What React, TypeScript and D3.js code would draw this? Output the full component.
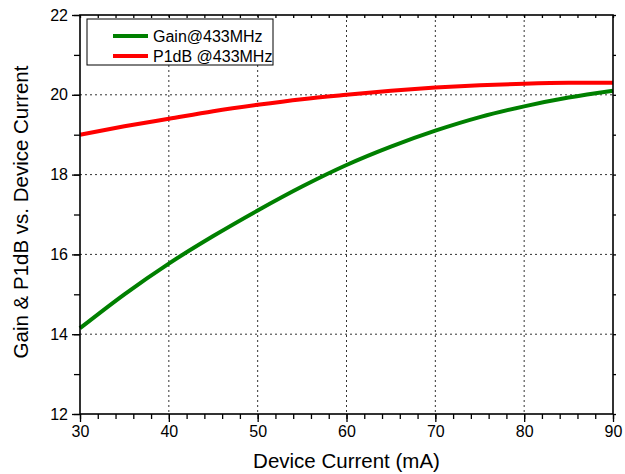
import React, { useEffect, useRef } from "react";
import * as d3 from "d3";

const current = [30, 35, 40, 45, 50, 55, 60, 65, 70, 75, 80, 85, 90];
const gain = [14.15, 15.0, 15.77, 16.46, 17.1, 17.7, 18.24, 18.7, 19.1, 19.44, 19.71, 19.93, 20.1];
const p1db = [19.0, 19.21, 19.4, 19.59, 19.75, 19.89, 20.0, 20.1, 20.18, 20.24, 20.28, 20.3, 20.3];
const xTicks = [30, 40, 50, 60, 70, 80, 90];
const yTicks = [12, 14, 16, 18, 20, 22];
const seriesNames = ["Gain@433MHz", "P1dB @433MHz"];

export default function App() {
  const svgRef = useRef<SVGSVGElement>(null);

  useEffect(() => {
    const svg = d3.select(svgRef.current);
    svg.selectAll("*").remove();

    const left = 80, right = 613, top = 15, bottom = 414;
    const x = d3.scaleLinear().domain([30, 90]).range([left, right]);
    const y = d3.scaleLinear().domain([12, 22]).range([bottom, top]);
    const font = "Liberation Sans, Arial, sans-serif";

    // grid
    const g = svg.append("g");
    g.selectAll(".vg")
      .data(xTicks.slice(1, -1))
      .enter()
      .append("line")
      .attr("x1", (d) => x(d))
      .attr("x2", (d) => x(d))
      .attr("y1", top)
      .attr("y2", bottom)
      .attr("stroke", "#333")
      .attr("stroke-width", 1)
      .attr("stroke-dasharray", "2,3");
    g.selectAll(".hg")
      .data(yTicks.slice(1, -1))
      .enter()
      .append("line")
      .attr("x1", left)
      .attr("x2", right)
      .attr("y1", (d) => y(d))
      .attr("y2", (d) => y(d))
      .attr("stroke", "#333")
      .attr("stroke-width", 1)
      .attr("stroke-dasharray", "2,3");

    // curves
    const line = d3
      .line<number>()
      .x((d, i) => x(current[i]))
      .y((d) => y(d))
      .curve(d3.curveMonotoneX);
    svg.append("path").attr("d", line(p1db)).attr("fill", "none").attr("stroke", "#ff0000").attr("stroke-width", 4);
    svg.append("path").attr("d", line(gain)).attr("fill", "none").attr("stroke", "#008000").attr("stroke-width", 4);

    // axes
    const xMinor = d3.range(30, 90.01, 2);
    const yMinor = d3.range(12, 22.01, 1);

    const bx = svg.append("g").attr("transform", `translate(0,${bottom})`);
    bx.call(d3.axisBottom(x).tickValues(xMinor).tickSize(5).tickFormat(() => ""));
    bx.call((s) => s.select(".domain").remove());
    const bxMajor = svg.append("g").attr("transform", `translate(0,${bottom})`)
      .call(d3.axisBottom(x).tickValues(xTicks).tickSize(8).tickPadding(4).tickFormat(d3.format("d")));
    bxMajor.select(".domain").remove();
    bxMajor.selectAll("text").attr("font-size", 16).attr("font-family", font).attr("fill", "#000");

    const tx = svg.append("g").attr("transform", `translate(0,${top})`)
      .call(d3.axisBottom(x).tickValues(xMinor).tickSize(3).tickFormat(() => ""));
    tx.select(".domain").remove();

    const ly = svg.append("g").attr("transform", `translate(${left},0)`)
      .call(d3.axisLeft(y).tickValues(yMinor).tickSize(6).tickFormat(() => ""));
    ly.select(".domain").remove();
    const lyMajor = svg.append("g").attr("transform", `translate(${left},0)`)
      .call(d3.axisLeft(y).tickValues(yTicks).tickSize(8).tickPadding(4).tickFormat(d3.format("d")));
    lyMajor.select(".domain").remove();
    lyMajor.selectAll("text").attr("font-size", 16).attr("font-family", font).attr("fill", "#000");

    const ry = svg.append("g").attr("transform", `translate(${right},0)`)
      .call(d3.axisRight(y).tickValues(yMinor).tickSize(3).tickFormat(() => ""));
    ry.select(".domain").remove();

    svg.selectAll(".tick line").attr("stroke", "#000").attr("stroke-width", 1.3);

    // frame
    svg.append("rect")
      .attr("x", left).attr("y", top)
      .attr("width", right - left).attr("height", bottom - top)
      .attr("fill", "none").attr("stroke", "#000").attr("stroke-width", 1.6);

    // titles
    svg.append("text")
      .attr("x", (left + right) / 2).attr("y", 468)
      .attr("text-anchor", "middle").attr("font-size", 20.5).attr("font-family", font)
      .text("Device Current (mA)");
    svg.append("text")
      .attr("transform", `translate(28,212) rotate(-90)`)
      .attr("text-anchor", "middle").attr("font-size", 20.5).attr("font-family", font)
      .text("Gain & P1dB vs. Device Current");

    // legend
    const lg = svg.append("g");
    lg.append("rect").attr("x", 87).attr("y", 19).attr("width", 186).attr("height", 46)
      .attr("fill", "#fff").attr("stroke", "#000").attr("stroke-width", 1);
    const colors = ["#008000", "#ff0000"];
    seriesNames.forEach((name, i) => {
      const yy = 36 + i * 20;
      lg.append("line").attr("x1", 113).attr("x2", 148).attr("y1", yy).attr("y2", yy)
        .attr("stroke", colors[i]).attr("stroke-width", 4);
      lg.append("text").attr("x", 153).attr("y", yy + 5.5).attr("font-size", 16)
        .attr("font-family", font).text(name);
    });
  }, []);

  return (
    <svg
      ref={svgRef}
      width={625}
      height={474}
      style={{ position: "absolute", left: 0, top: 0, background: "#fff" }}
    />
  );
}
